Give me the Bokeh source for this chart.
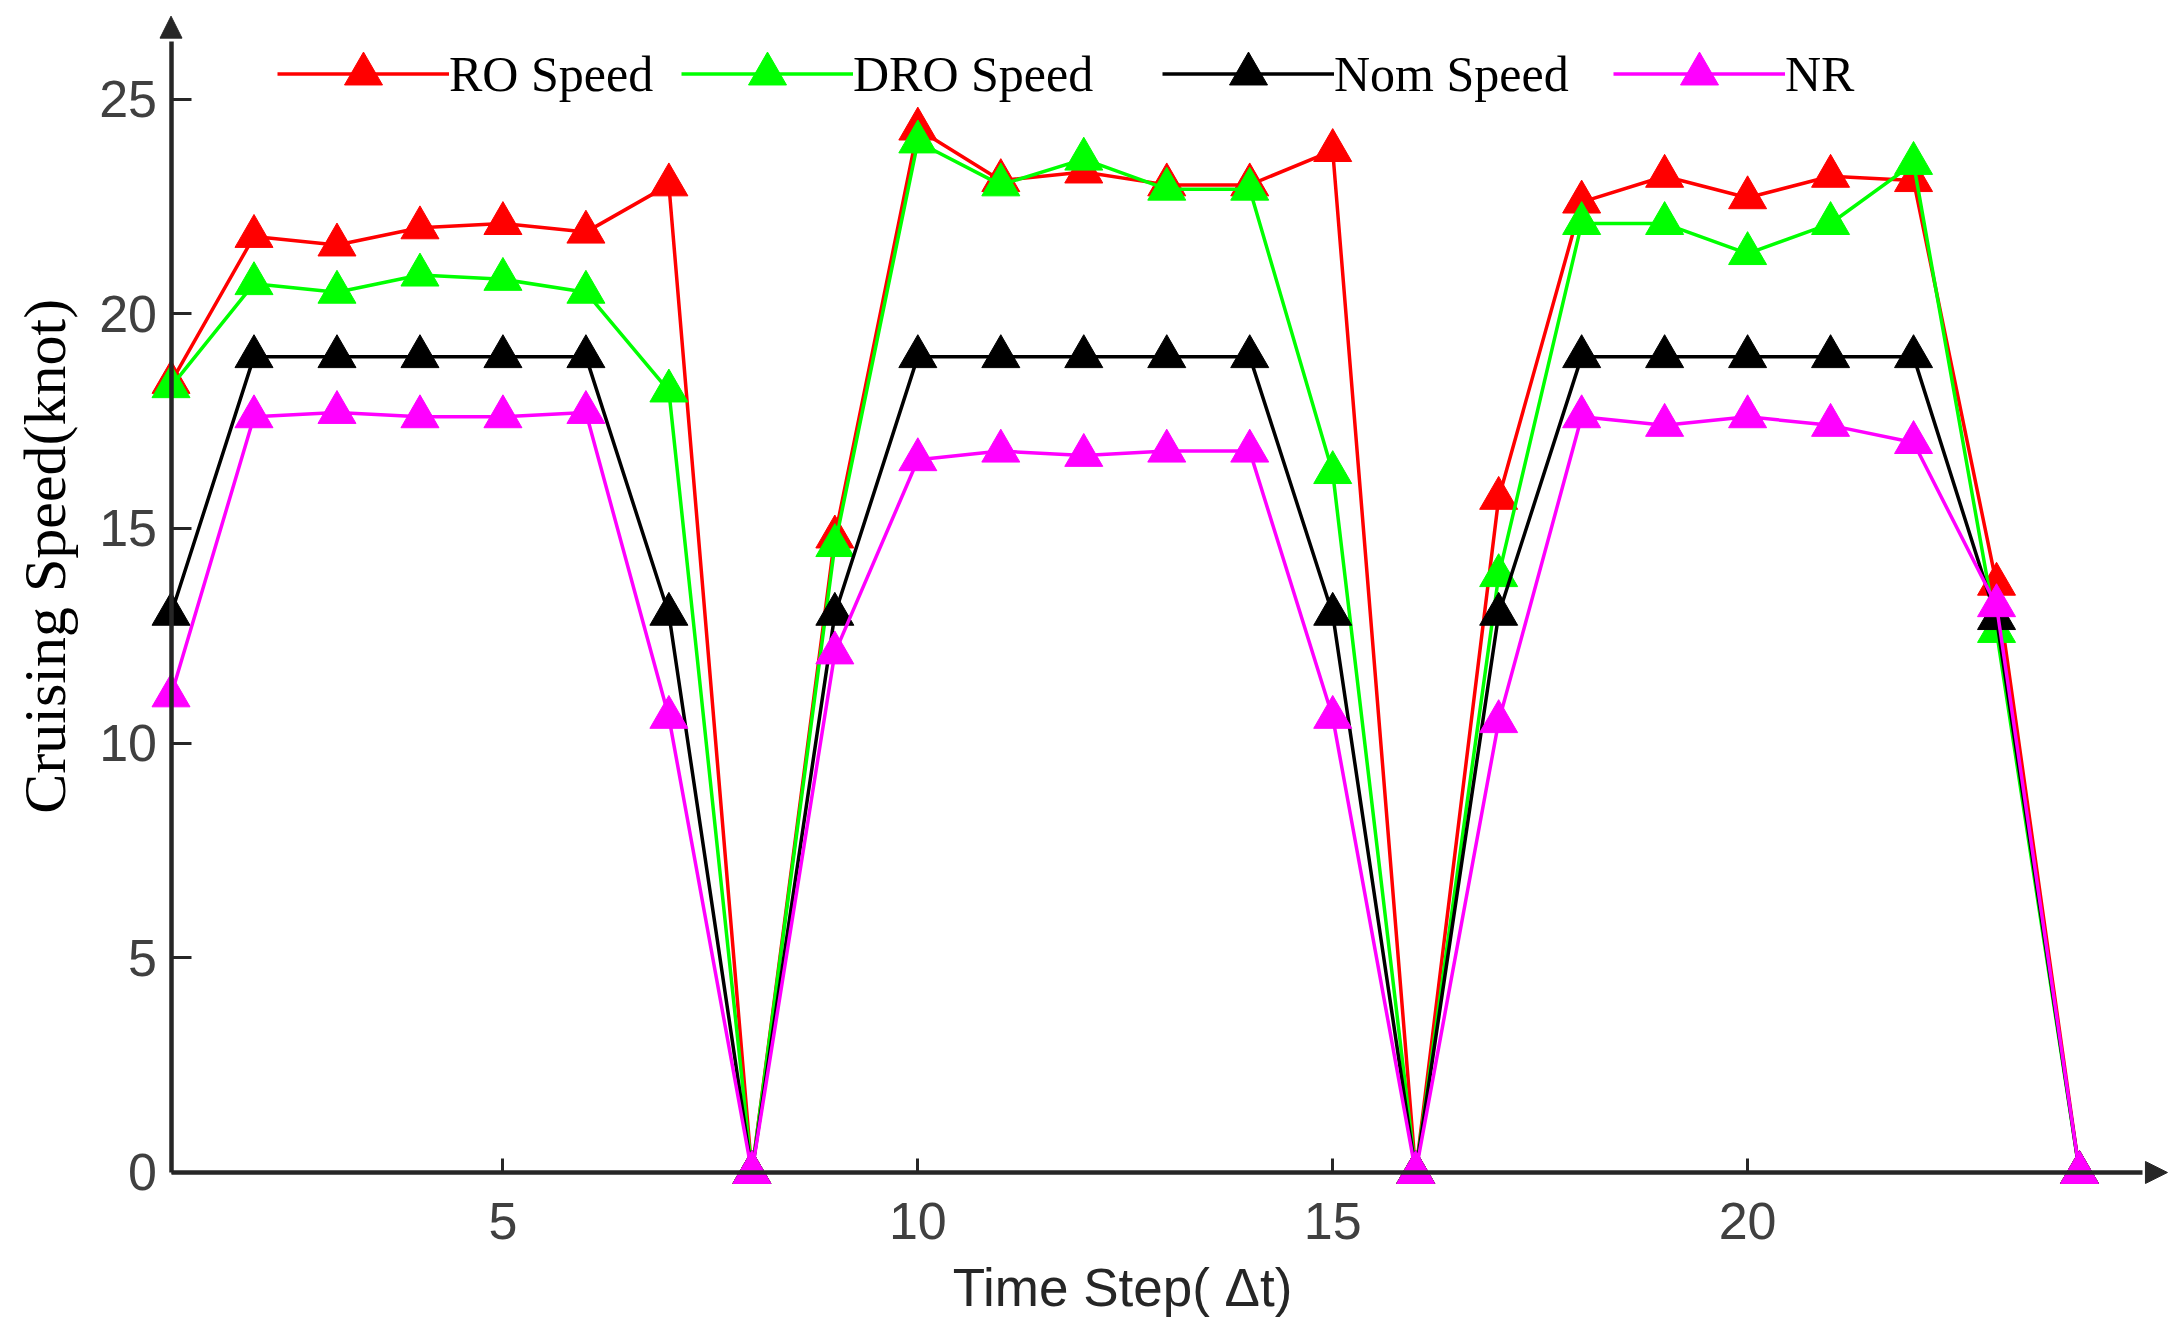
import math

from bokeh.plotting import figure
from bokeh.models import (Arrow, FixedTicker, Label, Legend, LegendItem,
                          NormalHead, Range1d)
from bokeh.embed import file_html
from bokeh.resources import INLINE

# time steps (delta t)
steps = list(range(1, 25))

# cruising speeds (knot)
ro_speed = [18.4, 21.8, 21.6, 22.0, 22.1, 21.9, 23.0, 0.0,
            14.8, 24.3, 23.1, 23.3, 23.0, 23.0, 23.8, 0.0,
            15.7, 22.6, 23.2, 22.7, 23.2, 23.1, 13.7, 0.0]
dro_speed = [18.3, 20.7, 20.5, 20.9, 20.8, 20.5, 18.2, 0.0,
             14.6, 24.0, 23.0, 23.6, 22.9, 22.9, 16.3, 0.0,
             13.9, 22.1, 22.1, 21.4, 22.1, 23.5, 12.6, 0.0]
nom_speed = [13.0, 19.0, 19.0, 19.0, 19.0, 19.0, 13.0, 0.0,
             13.0, 19.0, 19.0, 19.0, 19.0, 19.0, 13.0, 0.0,
             13.0, 19.0, 19.0, 19.0, 19.0, 19.0, 12.9, 0.0]
nr_speed = [11.1, 17.6, 17.7, 17.6, 17.6, 17.7, 10.6, 0.0,
            12.1, 16.6, 16.8, 16.7, 16.8, 16.8, 10.6, 0.0,
            10.5, 17.6, 17.4, 17.6, 17.4, 17.0, 13.2, 0.0]

series_names = ["RO Speed", "DRO Speed", "Nom Speed", "NR"]
series_colors = ["#FF0000", "#00FF00", "#000000", "#FF00FF"]

x_ticks = [5, 10, 15, 20]
y_ticks = [0, 5, 10, 15, 20, 25]

AXIS = "#262626"

p = figure(width=2179, height=1334,
           x_range=Range1d(-1.055, 25.205), y_range=Range1d(-3.773, 27.294),
           output_backend="svg", toolbar_location=None, min_border=0)
p.outline_line_color = None
p.grid.visible = False

# MATLAB-like axes: lines crossing at (1, 0), ticks pointing inward
for ax in (p.xaxis[0], p.yaxis[0]):
    ax.axis_line_width = 4.5
    ax.axis_line_color = AXIS
    ax.major_tick_line_color = AXIS
    ax.major_tick_line_width = 3
    ax.major_tick_out = 0
    ax.minor_tick_line_color = None
    ax.major_label_text_font = "Liberation Sans"
    ax.major_label_text_font_size = "52px"
    ax.major_label_text_color = "#404040"

p.xaxis.fixed_location = 0
p.yaxis.fixed_location = 1
p.xaxis.bounds = (1, 24.76)
p.yaxis.bounds = (0, 26.35)
p.xaxis.ticker = FixedTicker(ticks=x_ticks)
p.yaxis.ticker = FixedTicker(ticks=y_ticks)
p.xaxis.major_tick_in = 14
p.yaxis.major_tick_in = 20
p.xaxis.major_label_standoff = 31
p.yaxis.major_label_standoff = 14

# arrow heads at the ends of both axes
p.add_layout(Arrow(end=NormalHead(size=22, fill_color=AXIS, line_color=AXIS),
                   x_start=1, y_start=26.0, x_end=1, y_end=26.93, line_alpha=0))
p.add_layout(Arrow(end=NormalHead(size=22, fill_color=AXIS, line_color=AXIS),
                   x_start=24.5, y_start=0, x_end=25.06, y_end=0, line_alpha=0))

# axis titles
p.add_layout(Label(x=-0.52, y=14.35, text="Cruising Speed(knot)",
                   angle=math.pi / 2, text_align="center",
                   text_baseline="alphabetic", text_font="Liberation Serif",
                   text_font_size="60px", text_color="black"))
p.add_layout(Label(x=10.42, y=-2.68, text="Time Step( \u0394t)",
                   text_align="left", text_baseline="alphabetic",
                   text_font="Liberation Sans", text_font_size="53px",
                   text_color=AXIS))

# the four series
all_series = [ro_speed, dro_speed, nom_speed, nr_speed]
legend_x = [277, 681, 1162, 1613]
for name, color, vals, lx in zip(series_names, series_colors, all_series, legend_x):
    r_line = p.line(steps, vals, line_color=color, line_width=3.5)
    r_pts = p.scatter(steps, vals, marker="triangle", size=38,
                      fill_color=color, line_color=color)
    leg = Legend(items=[LegendItem(label=name, renderers=[r_line, r_pts])],
                 location=(lx, 1213), orientation="horizontal",
                 glyph_width=172, glyph_height=95, label_standoff=0,
                 padding=0, spacing=0, border_line_color=None,
                 background_fill_alpha=0,
                 label_text_font="Liberation Serif",
                 label_text_font_size="50px", label_text_color="black")
    p.add_layout(leg, "center")

open("out.html", "w").write(file_html(p, INLINE))
